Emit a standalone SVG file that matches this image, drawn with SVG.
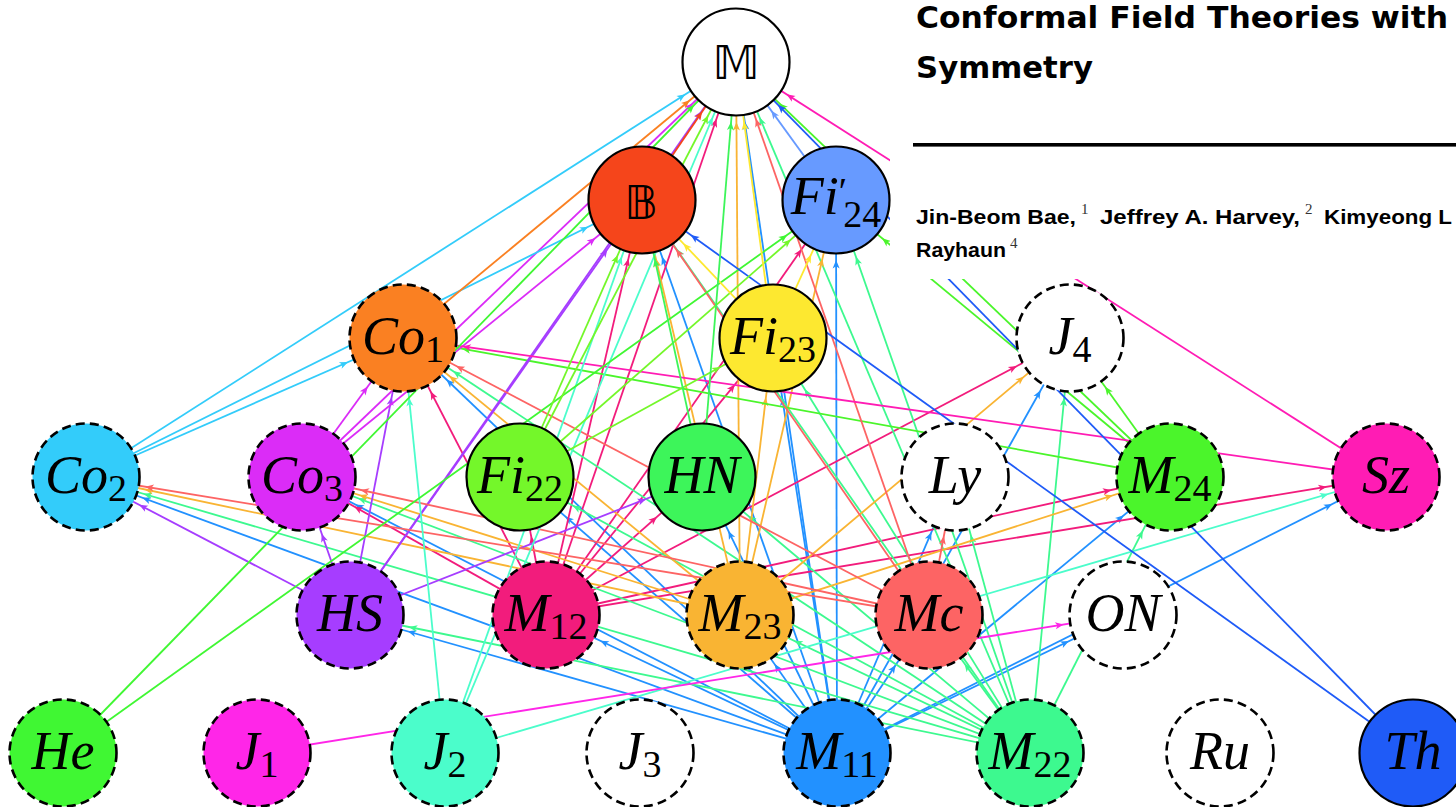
<svg xmlns="http://www.w3.org/2000/svg" width="1456" height="807" viewBox="0 0 1456 807">
<style>
.e{stroke-width:1.8;fill:none}
.sol{stroke:#000;stroke-width:2.2}
.dsh{stroke:#000;stroke-width:2.6;stroke-dasharray:9 5.2}
.lab{font-family:"Liberation Serif","DejaVu Serif",serif;font-style:italic;font-size:54px;text-anchor:middle;fill:#000}
.sub{font-style:normal;font-size:38px}
.bb{font-family:"DejaVu Sans","DejaVu Serif",sans-serif;font-style:normal;font-size:46px;text-anchor:middle;fill:#000}
.hd{font-family:"DejaVu Sans","Liberation Sans",sans-serif;font-weight:bold;fill:#000}
.au{font-family:"Liberation Sans","DejaVu Sans",sans-serif;font-weight:bold;font-size:21px;fill:#000}
.sup{font-family:"Liberation Serif","DejaVu Serif",serif;font-size:15px;fill:#333}
.m11{stroke:#2291FF;marker-end:url(#h-m11)}
.m12{stroke:#F21C7C;marker-end:url(#h-m12)}
.m22{stroke:#3DF98F;marker-end:url(#h-m22)}
.m23{stroke:#F9B433;marker-end:url(#h-m23)}
.m24{stroke:#4BF52B;marker-end:url(#h-m24)}
.hs{stroke:#A63DFF;marker-end:url(#h-hs)}
.mc{stroke:#FD6464;marker-end:url(#h-mc)}
.co3{stroke:#DB2CF7;marker-end:url(#h-co3)}
.co2{stroke:#33CCFA;marker-end:url(#h-co2)}
.co1{stroke:#FA8022;marker-end:url(#h-co1)}
.sz{stroke:#FF1CB4;marker-end:url(#h-sz)}
.j2{stroke:#4BFDCB;marker-end:url(#h-j2)}
.j1{stroke:#FF26E8;marker-end:url(#h-j1)}
.he{stroke:#40F733;marker-end:url(#h-he)}
.th{stroke:#1F5BF7;marker-end:url(#h-th)}
.fi22{stroke:#74F72A;marker-end:url(#h-fi22)}
.fi23{stroke:#FDE830;marker-end:url(#h-fi23)}
.hn{stroke:#3DF55A;marker-end:url(#h-hn)}
.f24{stroke:#679AFF;marker-end:url(#h-f24)}
.bm{stroke:#F5451B;marker-end:url(#h-bm)}
</style>
<defs>
<path id="ah" d="M0,0 L-8.5,-3.5 L-6.3,0 L-8.5,3.5 Z"/>
<marker id="h-m11" markerUnits="userSpaceOnUse" orient="auto" refX="60" refY="0" markerWidth="1" markerHeight="1" overflow="visible" style="overflow:visible"><use href="#ah" fill="#2291FF"/></marker>
<marker id="h-m12" markerUnits="userSpaceOnUse" orient="auto" refX="60" refY="0" markerWidth="1" markerHeight="1" overflow="visible" style="overflow:visible"><use href="#ah" fill="#F21C7C"/></marker>
<marker id="h-m22" markerUnits="userSpaceOnUse" orient="auto" refX="60" refY="0" markerWidth="1" markerHeight="1" overflow="visible" style="overflow:visible"><use href="#ah" fill="#3DF98F"/></marker>
<marker id="h-m23" markerUnits="userSpaceOnUse" orient="auto" refX="60" refY="0" markerWidth="1" markerHeight="1" overflow="visible" style="overflow:visible"><use href="#ah" fill="#F9B433"/></marker>
<marker id="h-m24" markerUnits="userSpaceOnUse" orient="auto" refX="60" refY="0" markerWidth="1" markerHeight="1" overflow="visible" style="overflow:visible"><use href="#ah" fill="#4BF52B"/></marker>
<marker id="h-hs" markerUnits="userSpaceOnUse" orient="auto" refX="60" refY="0" markerWidth="1" markerHeight="1" overflow="visible" style="overflow:visible"><use href="#ah" fill="#A63DFF"/></marker>
<marker id="h-mc" markerUnits="userSpaceOnUse" orient="auto" refX="60" refY="0" markerWidth="1" markerHeight="1" overflow="visible" style="overflow:visible"><use href="#ah" fill="#FD6464"/></marker>
<marker id="h-co3" markerUnits="userSpaceOnUse" orient="auto" refX="60" refY="0" markerWidth="1" markerHeight="1" overflow="visible" style="overflow:visible"><use href="#ah" fill="#DB2CF7"/></marker>
<marker id="h-co2" markerUnits="userSpaceOnUse" orient="auto" refX="60" refY="0" markerWidth="1" markerHeight="1" overflow="visible" style="overflow:visible"><use href="#ah" fill="#33CCFA"/></marker>
<marker id="h-co1" markerUnits="userSpaceOnUse" orient="auto" refX="60" refY="0" markerWidth="1" markerHeight="1" overflow="visible" style="overflow:visible"><use href="#ah" fill="#FA8022"/></marker>
<marker id="h-sz" markerUnits="userSpaceOnUse" orient="auto" refX="60" refY="0" markerWidth="1" markerHeight="1" overflow="visible" style="overflow:visible"><use href="#ah" fill="#FF1CB4"/></marker>
<marker id="h-j2" markerUnits="userSpaceOnUse" orient="auto" refX="60" refY="0" markerWidth="1" markerHeight="1" overflow="visible" style="overflow:visible"><use href="#ah" fill="#4BFDCB"/></marker>
<marker id="h-j1" markerUnits="userSpaceOnUse" orient="auto" refX="60" refY="0" markerWidth="1" markerHeight="1" overflow="visible" style="overflow:visible"><use href="#ah" fill="#FF26E8"/></marker>
<marker id="h-he" markerUnits="userSpaceOnUse" orient="auto" refX="60" refY="0" markerWidth="1" markerHeight="1" overflow="visible" style="overflow:visible"><use href="#ah" fill="#40F733"/></marker>
<marker id="h-th" markerUnits="userSpaceOnUse" orient="auto" refX="60" refY="0" markerWidth="1" markerHeight="1" overflow="visible" style="overflow:visible"><use href="#ah" fill="#1F5BF7"/></marker>
<marker id="h-fi22" markerUnits="userSpaceOnUse" orient="auto" refX="60" refY="0" markerWidth="1" markerHeight="1" overflow="visible" style="overflow:visible"><use href="#ah" fill="#74F72A"/></marker>
<marker id="h-fi23" markerUnits="userSpaceOnUse" orient="auto" refX="60" refY="0" markerWidth="1" markerHeight="1" overflow="visible" style="overflow:visible"><use href="#ah" fill="#FDE830"/></marker>
<marker id="h-hn" markerUnits="userSpaceOnUse" orient="auto" refX="60" refY="0" markerWidth="1" markerHeight="1" overflow="visible" style="overflow:visible"><use href="#ah" fill="#3DF55A"/></marker>
<marker id="h-f24" markerUnits="userSpaceOnUse" orient="auto" refX="60" refY="0" markerWidth="1" markerHeight="1" overflow="visible" style="overflow:visible"><use href="#ah" fill="#679AFF"/></marker>
<marker id="h-bm" markerUnits="userSpaceOnUse" orient="auto" refX="60" refY="0" markerWidth="1" markerHeight="1" overflow="visible" style="overflow:visible"><use href="#ah" fill="#F5451B"/></marker>
</defs>
<rect width="1456" height="807" fill="#fff"/>
<g id="connectors">
<g class="e m11">
<line x1="837" y1="753" x2="546" y2="615"/><line x1="837" y1="753" x2="740" y2="615"/><line x1="837" y1="753" x2="1170" y2="477"/><line x1="837" y1="753" x2="350" y2="615"/><line x1="837" y1="753" x2="929" y2="615"/><line x1="837" y1="753" x2="302" y2="477"/><line x1="837" y1="753" x2="86" y2="477"/><line x1="837" y1="753" x2="403" y2="338"/><line x1="837" y1="753" x2="1386" y2="477"/><line x1="837" y1="753" x2="520" y2="477"/><line x1="837" y1="753" x2="773" y2="338"/><line x1="837" y1="753" x2="836" y2="200"/><line x1="837" y1="753" x2="702" y2="477"/><line x1="837" y1="753" x2="955" y2="477"/><line x1="837" y1="753" x2="1123" y2="615"/><line x1="837" y1="753" x2="642" y2="200"/><line x1="837" y1="753" x2="736" y2="62"/><line x1="837" y1="753" x2="1070" y2="338"/>
</g>
<g class="e m12">
<line x1="546" y1="615" x2="1170" y2="477"/><line x1="546" y1="615" x2="302" y2="477"/><line x1="546" y1="615" x2="403" y2="338"/><line x1="546" y1="615" x2="1386" y2="477"/><line x1="546" y1="615" x2="520" y2="477"/><line x1="546" y1="615" x2="773" y2="338"/><line x1="546" y1="615" x2="836" y2="200"/><line x1="546" y1="615" x2="702" y2="477"/><line x1="546" y1="615" x2="642" y2="200"/><line x1="546" y1="615" x2="736" y2="62"/><line x1="546" y1="615" x2="1070" y2="338"/>
</g>
<g class="e m22">
<line x1="1030" y1="753" x2="740" y2="615"/><line x1="1030" y1="753" x2="1170" y2="477"/><line x1="1030" y1="753" x2="350" y2="615"/><line x1="1030" y1="753" x2="929" y2="615"/><line x1="1030" y1="753" x2="302" y2="477"/><line x1="1030" y1="753" x2="86" y2="477"/><line x1="1030" y1="753" x2="403" y2="338"/><line x1="1030" y1="753" x2="520" y2="477"/><line x1="1030" y1="753" x2="773" y2="338"/><line x1="1030" y1="753" x2="836" y2="200"/><line x1="1030" y1="753" x2="702" y2="477"/><line x1="1030" y1="753" x2="955" y2="477"/><line x1="1030" y1="753" x2="642" y2="200"/><line x1="1030" y1="753" x2="736" y2="62"/><line x1="1030" y1="753" x2="1070" y2="338"/>
</g>
<g class="e m23">
<line x1="740" y1="615" x2="1170" y2="477"/><line x1="740" y1="615" x2="302" y2="477"/><line x1="740" y1="615" x2="86" y2="477"/><line x1="740" y1="615" x2="403" y2="338"/><line x1="740" y1="615" x2="773" y2="338"/><line x1="740" y1="615" x2="836" y2="200"/><line x1="740" y1="615" x2="642" y2="200"/><line x1="740" y1="615" x2="736" y2="62"/><line x1="740" y1="615" x2="1070" y2="338"/>
</g>
<g class="e m24">
<line x1="1170" y1="477" x2="403" y2="338"/><line x1="1170" y1="477" x2="836" y2="200"/><line x1="1170" y1="477" x2="736" y2="62"/><line x1="1170" y1="477" x2="1070" y2="338"/>
</g>
<g class="e hs">
<line x1="350" y1="615" x2="302" y2="477"/><line x1="350" y1="615" x2="86" y2="477"/><line x1="350" y1="615" x2="403" y2="338"/><line x1="350" y1="615" x2="702" y2="477"/><line x1="350" y1="615" x2="642" y2="200"/><line x1="350" y1="615" x2="736" y2="62"/>
</g>
<g class="e mc">
<line x1="929" y1="615" x2="302" y2="477"/><line x1="929" y1="615" x2="86" y2="477"/><line x1="929" y1="615" x2="403" y2="338"/><line x1="929" y1="615" x2="955" y2="477"/><line x1="929" y1="615" x2="642" y2="200"/><line x1="929" y1="615" x2="736" y2="62"/>
</g>
<g class="e co3">
<line x1="302" y1="477" x2="403" y2="338"/><line x1="302" y1="477" x2="642" y2="200"/><line x1="302" y1="477" x2="736" y2="62"/>
</g>
<g class="e co2">
<line x1="86" y1="477" x2="403" y2="338"/><line x1="86" y1="477" x2="642" y2="200"/><line x1="86" y1="477" x2="736" y2="62"/>
</g>
<g class="e co1"><line x1="403" y1="338" x2="736" y2="62"/></g>
<g class="e sz"><line x1="1386" y1="477" x2="403" y2="338"/><line x1="1386" y1="477" x2="736" y2="62"/></g>
<g class="e j2">
<line x1="445" y1="753" x2="1386" y2="477"/><line x1="445" y1="753" x2="403" y2="338"/><line x1="445" y1="753" x2="642" y2="200"/><line x1="445" y1="753" x2="736" y2="62"/>
</g>
<g class="e j1"><line x1="257" y1="753" x2="1123" y2="615"/></g>
<g class="e he"><line x1="63" y1="753" x2="836" y2="200"/><line x1="63" y1="753" x2="736" y2="62"/></g>
<g class="e th"><line x1="1413" y1="753" x2="642" y2="200"/><line x1="1413" y1="753" x2="736" y2="62"/></g>
<g class="e fi22">
<line x1="520" y1="477" x2="773" y2="338"/><line x1="520" y1="477" x2="836" y2="200"/><line x1="520" y1="477" x2="642" y2="200"/><line x1="520" y1="477" x2="736" y2="62"/>
</g>
<g class="e fi23"><line x1="773" y1="338" x2="836" y2="200"/><line x1="773" y1="338" x2="642" y2="200"/><line x1="773" y1="338" x2="736" y2="62"/></g>
<g class="e hn"><line x1="702" y1="477" x2="642" y2="200"/><line x1="702" y1="477" x2="736" y2="62"/></g>
<g class="e f24"><line x1="836" y1="200" x2="736" y2="62"/></g>
<g class="e bm"><line x1="642" y1="200" x2="736" y2="62"/></g>
</g>
<g id="header">
<rect x="890" y="0" width="566" height="279" fill="#fff"/>
<text class="hd" x="916" y="28" font-size="31" textLength="532" lengthAdjust="spacingAndGlyphs">Conformal Field Theories with</text>
<text class="hd" x="916" y="78" font-size="31" textLength="177" lengthAdjust="spacingAndGlyphs">Symmetry</text>
<rect x="913" y="143" width="543" height="3.6" fill="#000"/>
<text class="au" x="916" y="224" textLength="160" lengthAdjust="spacingAndGlyphs">Jin-Beom Bae,</text>
<text class="sup" x="1081" y="214">1</text>
<text class="au" x="1100" y="224" textLength="200" lengthAdjust="spacingAndGlyphs">Jeffrey A. Harvey,</text>
<text class="sup" x="1305" y="214">2</text>
<text class="au" x="1324" y="224" textLength="128" lengthAdjust="spacingAndGlyphs">Kimyeong L</text>
<text class="au" x="916" y="257" textLength="90" lengthAdjust="spacingAndGlyphs">Rayhaun</text>
<text class="sup" x="1010" y="248">4</text>
</g>
<g id="n-M"><circle cx="736" cy="62" r="53.5" fill="#fff" class="sol"/><text class="bb" x="736" y="79">𝕄</text></g>
<g id="n-B"><circle cx="642" cy="200" r="53.5" fill="#F5451B" class="sol"/><text class="bb" x="641" y="219">𝔹</text></g>
<g id="n-Fi24p"><circle cx="836" cy="200" r="53.5" fill="#679AFF" class="sol"/><text class="lab" x="836" y="214">Fi<tspan class="sub" dy="-10">′</tspan><tspan class="sub" dx="-4" dy="23">24</tspan></text></g>
<g id="n-Co1"><circle cx="403" cy="338" r="53.5" fill="#FA8022" class="dsh"/><text class="lab" x="403" y="354">Co<tspan class="sub" dy="8">1</tspan></text></g>
<g id="n-Fi23"><circle cx="773" cy="338" r="53.5" fill="#FDE830" class="sol"/><text class="lab" x="773" y="354">Fi<tspan class="sub" dy="8">23</tspan></text></g>
<g id="n-J4"><circle cx="1070" cy="338" r="53.5" fill="#fff" class="dsh"/><text class="lab" x="1070" y="354">J<tspan class="sub" dy="8">4</tspan></text></g>
<g id="n-Co2"><circle cx="86" cy="477" r="53.5" fill="#33CCFA" class="dsh"/><text class="lab" x="86" y="493">Co<tspan class="sub" dy="8">2</tspan></text></g>
<g id="n-Co3"><circle cx="302" cy="477" r="53.5" fill="#DB2CF7" class="dsh"/><text class="lab" x="302" y="493">Co<tspan class="sub" dy="8">3</tspan></text></g>
<g id="n-Fi22"><circle cx="520" cy="477" r="53.5" fill="#74F72A" class="sol"/><text class="lab" x="520" y="493">Fi<tspan class="sub" dy="8">22</tspan></text></g>
<g id="n-HN"><circle cx="702" cy="477" r="53.5" fill="#3DF55A" class="sol"/><text class="lab" x="702" y="493">HN</text></g>
<g id="n-Ly"><circle cx="955" cy="477" r="53.5" fill="#fff" class="dsh"/><text class="lab" x="955" y="493">Ly</text></g>
<g id="n-M24"><circle cx="1170" cy="477" r="53.5" fill="#4BF52B" class="dsh"/><text class="lab" x="1170" y="493">M<tspan class="sub" dy="8">24</tspan></text></g>
<g id="n-Sz"><circle cx="1386" cy="477" r="53.5" fill="#FF1CB4" class="dsh"/><text class="lab" x="1386" y="493">Sz</text></g>
<g id="n-HS"><circle cx="350" cy="615" r="53.5" fill="#A63DFF" class="dsh"/><text class="lab" x="350" y="631">HS</text></g>
<g id="n-M12"><circle cx="546" cy="615" r="53.5" fill="#F21C7C" class="dsh"/><text class="lab" x="546" y="631">M<tspan class="sub" dy="8">12</tspan></text></g>
<g id="n-M23"><circle cx="740" cy="615" r="53.5" fill="#F9B433" class="dsh"/><text class="lab" x="740" y="631">M<tspan class="sub" dy="8">23</tspan></text></g>
<g id="n-Mc"><circle cx="929" cy="615" r="53.5" fill="#FD6464" class="dsh"/><text class="lab" x="929" y="631">Mc</text></g>
<g id="n-ON"><circle cx="1123" cy="615" r="53.5" fill="#fff" class="dsh"/><text class="lab" x="1123" y="631">ON</text></g>
<g id="n-He"><circle cx="63" cy="753" r="53.5" fill="#40F733" class="dsh"/><text class="lab" x="63" y="769">He</text></g>
<g id="n-J1"><circle cx="257" cy="753" r="53.5" fill="#FF26E8" class="dsh"/><text class="lab" x="257" y="769">J<tspan class="sub" dy="8">1</tspan></text></g>
<g id="n-J2"><circle cx="445" cy="753" r="53.5" fill="#4BFDCB" class="dsh"/><text class="lab" x="445" y="769">J<tspan class="sub" dy="8">2</tspan></text></g>
<g id="n-J3"><circle cx="640" cy="753" r="53.5" fill="#fff" class="dsh"/><text class="lab" x="640" y="769">J<tspan class="sub" dy="8">3</tspan></text></g>
<g id="n-M11"><circle cx="837" cy="753" r="53.5" fill="#2291FF" class="dsh"/><text class="lab" x="837" y="769">M<tspan class="sub" dy="8">11</tspan></text></g>
<g id="n-M22"><circle cx="1030" cy="753" r="53.5" fill="#3DF98F" class="dsh"/><text class="lab" x="1030" y="769">M<tspan class="sub" dy="8">22</tspan></text></g>
<g id="n-Ru"><circle cx="1220" cy="753" r="53.5" fill="#fff" class="dsh"/><text class="lab" x="1220" y="769">Ru</text></g>
<g id="n-Th"><circle cx="1413" cy="753" r="53.5" fill="#1F5BF7" class="sol"/><text class="lab" x="1413" y="769">Th</text></g>
</svg>
